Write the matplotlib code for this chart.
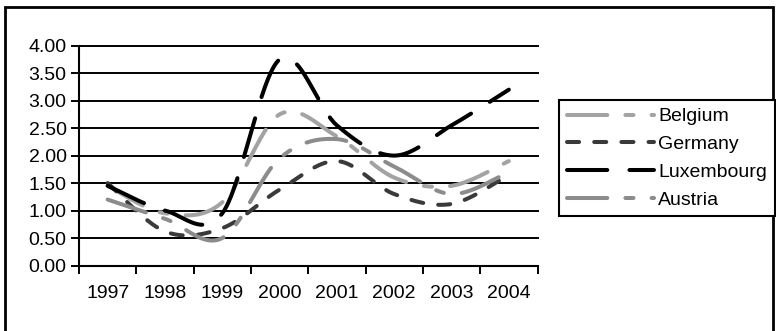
import numpy as np
import matplotlib
matplotlib.use("Agg")
import matplotlib.pyplot as plt
from matplotlib.patches import Rectangle

plt.rcParams['font.family'] = ['Liberation Sans', 'DejaVu Sans']

# ข้อมูลรายปี
years = ['1997', '1998', '1999', '2000', '2001', '2002', '2003', '2004']
belgium = [1.45, 0.95, 1.15, 2.75, 2.35, 1.60, 1.45, 1.90]
germany = [1.50, 0.62, 0.68, 1.38, 1.90, 1.30, 1.12, 1.65]
luxembourg = [1.45, 1.00, 0.95, 3.75, 2.55, 2.00, 2.55, 3.20]
austria = [1.20, 0.85, 0.50, 1.95, 2.30, 1.80, 1.30, 1.70]


def smooth(values, n=40):
    # เส้นโค้งแบบ Bezier ผ่านทุกจุด (คล้าย smoothed line ของ Excel)
    pts = np.column_stack([np.arange(len(values)), values]).astype(float)
    pad = np.vstack([pts[0], pts, pts[-1]])
    t = np.linspace(0, 1, n)[:, None]
    out = []
    for i in range(len(pts) - 1):
        p0, p3 = pts[i], pts[i + 1]
        p1 = p0 + (pad[i + 2] - pad[i]) / 6
        p2 = p3 - (pad[i + 3] - pad[i + 1]) / 6
        seg = (1 - t) ** 3 * p0 + 3 * (1 - t) ** 2 * t * p1 + 3 * (1 - t) * t ** 2 * p2 + t ** 3 * p3
        out.append(seg if i == 0 else seg[1:])
    return np.vstack(out)


W, H = 776, 331
fig = plt.figure(figsize=(W / 100, H / 100), dpi=100)
ax = fig.add_axes([79 / W, 1 - 265.5 / H, (537.5 - 79) / W, (265.5 - 45.7) / H])

lw = 2.9
series = [
    ('Belgium', belgium, '#a3a3a3', (10, 4.5, 2, 4.5)),
    ('Germany', germany, '#3a3a3a', (3, 3.75)),
    ('Luxembourg', luxembourg, '#000000', (10, 5.5)),
    ('Austria', austria, '#8c8c8c', (10, 4.5, 2, 4.5)),
]
for name, vals, color, dash in series:
    c = smooth(vals)
    ax.plot(c[:, 0], c[:, 1], color=color, lw=lw, dashes=dash,
            dash_capstyle='round', solid_capstyle='round', label=name, clip_on=False)

ax.set_xlim(-0.5, 7.5)
ax.set_ylim(0, 4)

# เส้นกริดแนวนอน
yt = np.arange(0.5, 4.01, 0.5)
for y in yt:
    ax.axhline(y, color='black', lw=1.4, zorder=0, clip_on=False)

ax.set_yticks(np.arange(0, 4.01, 0.5))
ax.set_yticklabels([f'{v:.2f}' for v in np.arange(0, 4.01, 0.5)])
ax.set_xticks(np.arange(-0.5, 8, 1))
ax.set_xticklabels([])
ax.set_xticks(range(len(years)), labels=years, minor=True)
ax.tick_params(axis='both', which='major', direction='out', length=6, width=1.4, color='black',
               labelsize=14, pad=3)
ax.tick_params(axis='x', which='minor', length=0, labelsize=14, pad=14)

for s in ['top', 'right']:
    ax.spines[s].set_visible(False)
for s in ['left', 'bottom']:
    ax.spines[s].set_linewidth(1.5)
    ax.spines[s].set_color('black')

leg = fig.legend(loc='upper left', bbox_to_anchor=(559 / W, 1 - 100 / H), fontsize=14,
                 handlelength=4.5, handletextpad=0.2, labelspacing=0.52, borderpad=0.4,
                 borderaxespad=0, fancybox=False, framealpha=1)
leg.get_frame().set_edgecolor('black')
leg.get_frame().set_linewidth(1.5)

# กรอบรอบแผนภูมิ
fig.patches.append(Rectangle((5 / W, -0.1), (773 - 5) / W, 1.1 - 7 / H, transform=fig.transFigure,
                             fill=False, edgecolor='black', lw=2))

fig.savefig('out.png', dpi=100)
